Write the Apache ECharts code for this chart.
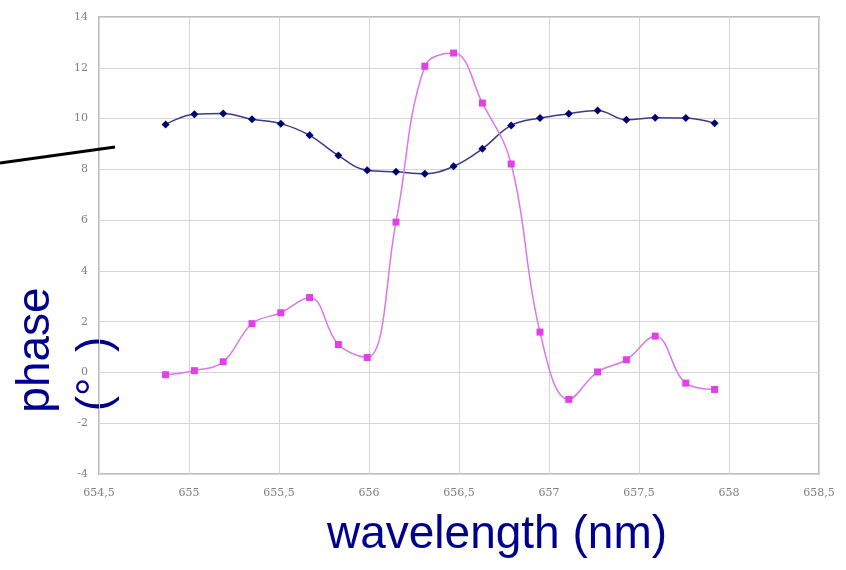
<!DOCTYPE html>
<html>
<head>
<meta charset="utf-8">
<script src="https://cdn.jsdelivr.net/npm/echarts@6/dist/echarts.min.js"></script>
<style>html,body{margin:0;padding:0;background:#fff;}#c{width:846px;height:570px;}</style>
</head>
<body>
<div id="c"></div>
<script>
const wavelengths = [654.87, 655.03, 655.19, 655.35, 655.51, 655.67, 655.83, 655.99, 656.15, 656.31,
                     656.47, 656.63, 656.79, 656.95, 657.11, 657.27, 657.43, 657.59, 657.76, 657.92];
const seriesBlue = [9.77, 10.17, 10.2, 9.97, 9.8, 9.34, 8.54, 7.96, 7.9, 7.83,
                    8.12, 8.81, 9.73, 10.02, 10.19, 10.32, 9.95, 10.03, 10.02, 9.82];
const seriesPink = [-0.09, 0.07, 0.42, 1.92, 2.35, 2.95, 1.1, 0.59, 5.92, 12.06,
                    12.58, 10.61, 8.21, 1.59, -1.06, 0.02, 0.5, 1.43, -0.42, -0.67];
const xTicks = {min: 654.5, max: 658.5, interval: 0.5};
const yTicks = {min: -4, max: 14, interval: 2};
const xTitle = 'wavelength (nm)';
const yTitle1 = 'phase';
const yTitle2 = '(°  )';

const chart = echarts.init(document.getElementById('c'), null, {renderer: 'canvas'});
const tickFont = {color: '#808080', fontFamily: 'DejaVu Serif', fontSize: 11};
const titleFont = '46px "Liberation Sans", Arial, sans-serif';
chart.setOption({
  animation: false,
  grid: {left: 99, right: 27, top: 17, bottom: 96, show: true, borderColor: '#bdbdbd', borderWidth: 2, backgroundColor: '#fff'},
  xAxis: {
    type: 'value', min: xTicks.min, max: xTicks.max, interval: xTicks.interval,
    axisLine: {show: false}, axisTick: {show: false},
    splitLine: {show: true, lineStyle: {color: '#d6d6d6', width: 1}},
    axisLabel: Object.assign({margin: 14, formatter: v => String(v).replace('.', ',')}, tickFont)
  },
  yAxis: {
    type: 'value', min: yTicks.min, max: yTicks.max, interval: yTicks.interval,
    axisLine: {show: false}, axisTick: {show: false},
    splitLine: {show: true, lineStyle: {color: '#d6d6d6', width: 1}},
    axisLabel: Object.assign({margin: 11}, tickFont)
  },
  series: [
    {
      type: 'line', smooth: 0.4,
      data: wavelengths.map((x, i) => [x, seriesBlue[i]]),
      symbol: 'diamond', symbolSize: 8,
      lineStyle: {color: '#3a3a8a', width: 1.5},
      itemStyle: {color: '#000075'}
    },
    {
      type: 'line', smooth: 0.4,
      data: wavelengths.map((x, i) => [x, seriesPink[i]]),
      symbol: 'rect', symbolSize: 7,
      lineStyle: {color: '#dd77ea', width: 1.5},
      itemStyle: {color: '#e040e6'}
    }
  ],
  graphic: [
    {type: 'line', shape: {x1: 0, y1: 163, x2: 115, y2: 147}, style: {stroke: '#000', lineWidth: 3}, z: 100},
    {type: 'text', x: 497, y: 535, style: {text: xTitle, font: titleFont, fill: '#00008f', textAlign: 'center', textVerticalAlign: 'middle'}},
    {type: 'text', rotation: Math.PI / 2, x: 36, y: 350, style: {text: yTitle1, font: titleFont, fill: '#00008f', textAlign: 'center', textVerticalAlign: 'middle'}},
    {type: 'text', rotation: Math.PI / 2, x: 96, y: 374, style: {text: yTitle2, font: titleFont, fill: '#00008f', textAlign: 'center', textVerticalAlign: 'middle'}}
  ]
});
</script>
</body>
</html>
